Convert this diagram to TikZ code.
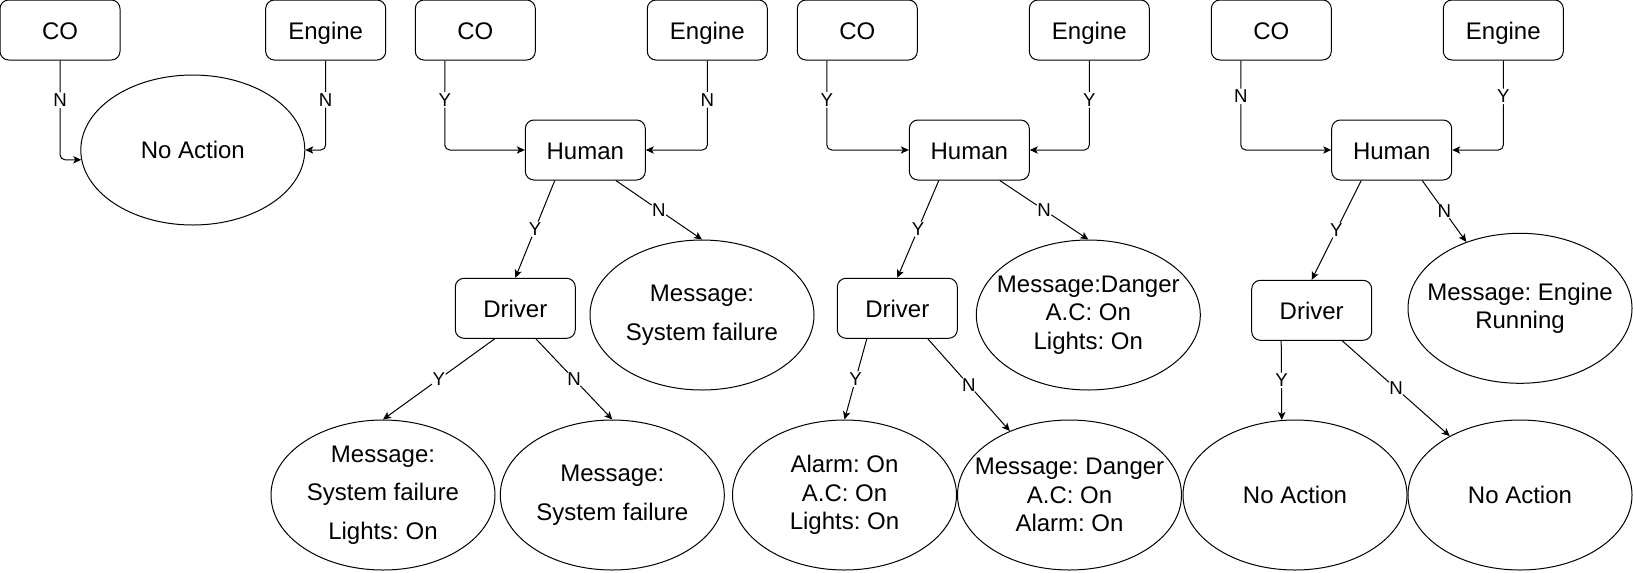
\documentclass[tikz,border=0pt]{standalone}
\usepackage{fontspec}
\setmainfont{Liberation Sans}
\usetikzlibrary{arrows.meta,shapes.geometric}
\frenchspacing

\begin{document}
\begin{tikzpicture}[x=0.75pt,y=-0.75pt,line width=0.75pt,
  >={Stealth[length=6pt,width=5.5pt,inset=1.5pt]}]
\tikzstyle{box}=[draw,rectangle,rounded corners=6.5pt,minimum width=90pt,minimum height=45pt,inner sep=0pt,text height=13.5pt,text depth=0pt,font=\fontsize{18}{21.5}\selectfont] %%
\tikzstyle{leaf}=[draw,ellipse,minimum width=168pt,minimum height=112.5pt,inner sep=-30pt,align=center,font=\fontsize{18}{21.2}\selectfont] %%
\tikzstyle{wideleaf}=[leaf,font=\fontsize{18}{29}\selectfont] %%
\tikzstyle{lbl}=[fill=white,inner sep=1pt,font=\fontsize{14}{16}\selectfont] %%
\tikzstyle{link}=[->,rounded corners=3.75pt] %%
\useasboundingbox (0,0) rectangle (1633,572);
% case 1
\node[box] (co1) at (60,30) {CO}; %%
\node[box] (eng1) at (325.7,30) {Engine}; %%
\node[leaf] (act1) at (192.8,150) {No Action}; %%
% case 2
\node[box] (co2) at (475.3,30) {CO}; %%
\node[box] (eng2) at (707.3,30) {Engine}; %%
\node[box] (hum2) at (585.3,150) {Human}; %%
\node[box] (drv2) at (515.3,308.3) {Driver}; %%
\node[wideleaf] (msg2) at (702,315) {Message:\\System failure}; %%
\node[wideleaf] (drvY2) at (383,495) {Message:\\System failure\\Lights: On}; %%
\node[wideleaf] (drvN2) at (612.3,495) {Message:\\System failure}; %%
% case 3
\node[box] (co3) at (857.3,30) {CO}; %%
\node[box] (eng3) at (1089.3,30) {Engine}; %%
\node[box] (hum3) at (969.3,150) {Human}; %%
\node[box] (drv3) at (897.3,308.3) {Driver}; %%
\node[leaf] (msg3) at (1088.3,315) {Message:Danger\\A.C: On\\Lights: On}; %%
\node[leaf] (drvY3) at (844.5,495) {Alarm: On\\A.C: On\\Lights: On}; %%
\node[leaf] (drvN3) at (1069.5,495) {Message: Danger\\A.C: On\\Alarm: On}; %%
% case 4
\node[box] (co4) at (1271.3,30) {CO}; %%
\node[box] (eng4) at (1503.3,30) {Engine}; %%
\node[box] (hum4) at (1391.7,150) {Human}; %%
\node[box] (drv4) at (1311.7,310.3) {Driver}; %%
\node[leaf] (msg4) at (1520,308.3) {Message: Engine\\Running}; %%
\node[leaf] (drvY4) at (1295,495) {No Action}; %%
\node[leaf] (drvN4) at (1520,495) {No Action}; %%
% edges
\draw[link] (co1.south) |- (act1.185) node[lbl,pos=.2]{N}; %%
\draw[link] (eng1.south) |- (act1.east) node[lbl,pos=.22]{N}; %%
\draw[link] (co2.225) |- (hum2.west) node[lbl,pos=.22]{Y}; %%
\draw[link] (eng2.south) |- (hum2.east) node[lbl,pos=.22]{N}; %%
\draw[link] (hum2.225) -- (drv2.north) node[lbl,midway]{Y}; %%
\draw[link] (hum2.315) -- (msg2.north) node[lbl,midway]{N}; %%
\draw[link] (drv2.236) -- (drvY2.north) node[lbl,midway]{Y}; %%
\draw[link] (drv2.304) -- (drvN2.north) node[lbl,midway]{N}; %%
\draw[link] (co3.225) |- (hum3.west) node[lbl,pos=.22]{Y}; %%
\draw[link] (eng3.south) |- (hum3.east) node[lbl,pos=.22]{Y}; %%
\draw[link] (hum3.225) -- (drv3.north) node[lbl,midway]{Y}; %%
\draw[link] (hum3.315) -- (msg3.north) node[lbl,midway]{N}; %%
\draw[link] (drv3.225) -- (drvY3.north) node[lbl,midway]{Y}; %%
\draw[link] (drv3.315) -- (drvN3.133) node[lbl,midway]{N}; %%
\draw[link] (co4.225) |- (hum4.west) node[lbl,pos=.2]{N}; %%
\draw[link] (eng4.south) |- (hum4.east) node[lbl,pos=.2]{Y}; %%
\draw[link] (hum4.225) -- (drv4.north) node[lbl,midway]{Y}; %%
\draw[link] (hum4.315) -- (msg4.129) node[lbl,midway]{N}; %%
\draw[link] (drv4.225) -- (drvY4.100) node[lbl,midway]{Y}; %%
\draw[link] (drv4.315) -- (drvN4.140) node[lbl,midway]{N}; %%
\end{tikzpicture}
\end{document}
